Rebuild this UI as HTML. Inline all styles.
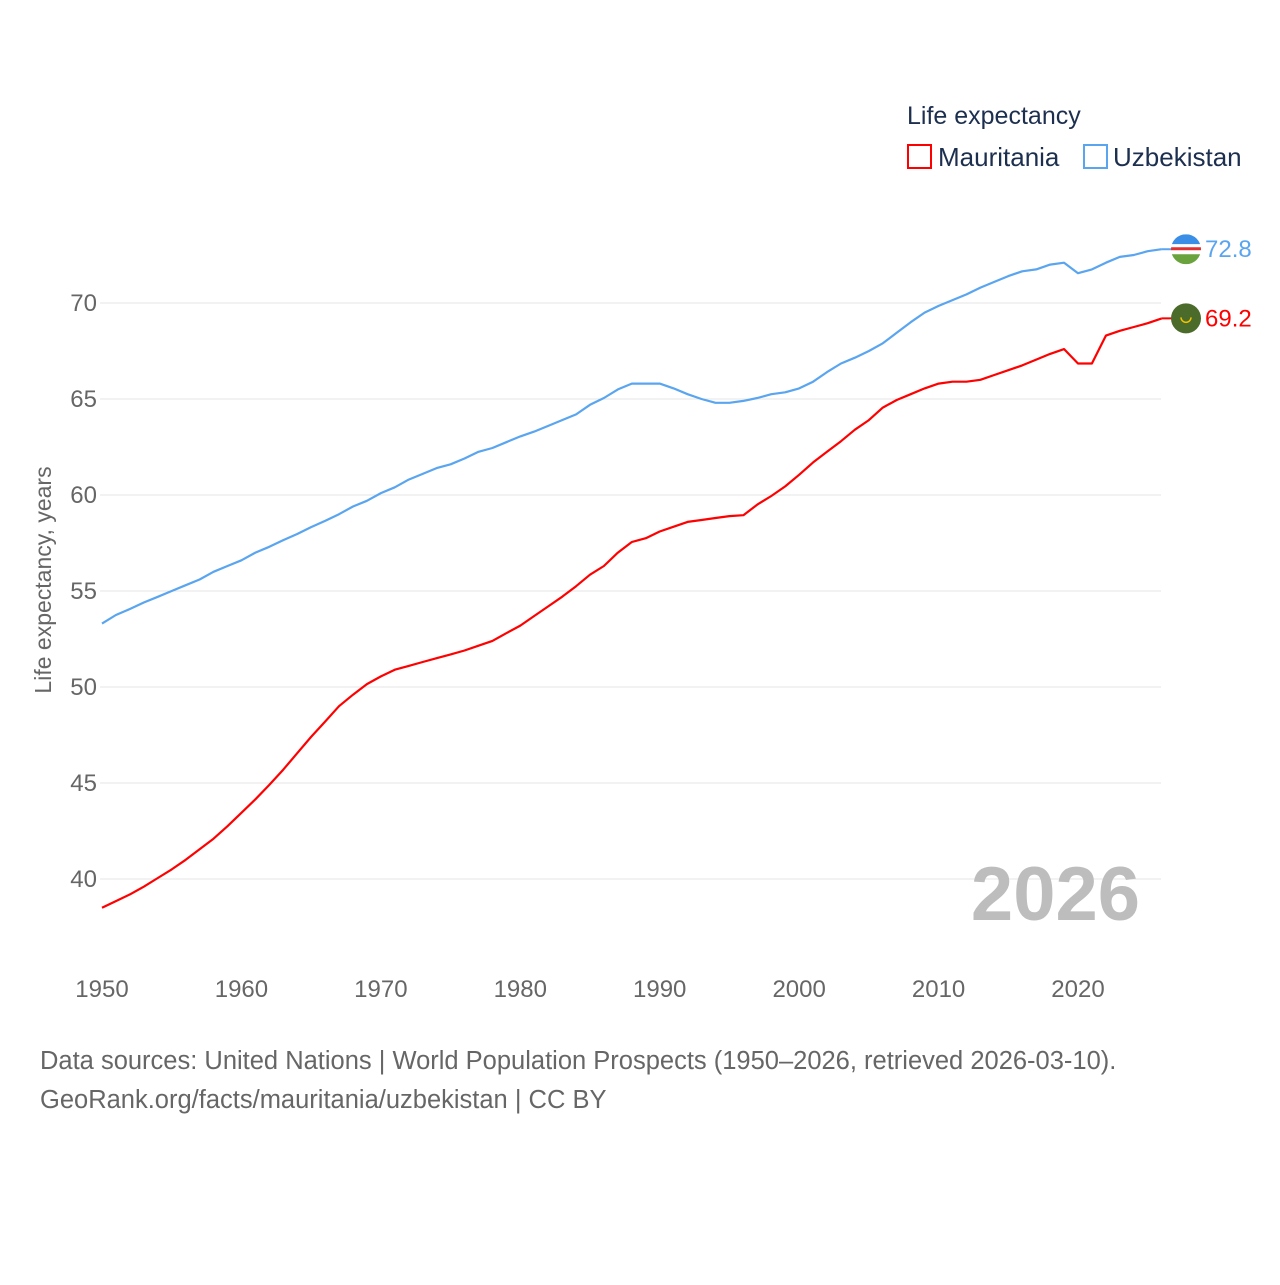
<!DOCTYPE html>
<html><head><meta charset="utf-8"><style>
body{margin:0;background:#fff;font-family:"Liberation Sans",sans-serif;}
svg text{font-family:"Liberation Sans",sans-serif;}
</style></head><body>
<svg id="chart" width="1280" height="1280" viewBox="0 0 1280 1280" xmlns="http://www.w3.org/2000/svg">
<rect width="1280" height="1280" fill="#fff"/>
<g id="grid"></g><g id="xt"></g><g id="yt"></g>
<text transform="translate(51,580) rotate(-90)" text-anchor="middle" font-size="23" fill="#666">Life expectancy, years</text>
<text x="1140" y="920" text-anchor="end" font-size="76" font-weight="bold" fill="#bdbdbd">2026</text>
<g id="series"></g>
<text x="907" y="124" font-size="25" fill="#1d2f4f">Life expectancy</text>
<g><rect x="908" y="145" width="23" height="23" fill="none" stroke="#f00" stroke-width="2"/><text x="938" y="166" font-size="26" fill="#1d2f4f">Mauritania</text></g>
<g><rect x="1084" y="145" width="23" height="23" fill="none" stroke="#5aa5ef" stroke-width="2"/><text x="1113" y="166" font-size="26" fill="#1d2f4f">Uzbekistan</text></g>
<text x="40" y="1069" font-size="25.5" fill="#666">Data sources: United Nations | World Population Prospects (1950–2026, retrieved 2026-03-10).</text>
<text x="40" y="1108" font-size="25.5" fill="#666">GeoRank.org/facts/mauritania/uzbekistan | CC BY</text>
</svg>
<script>
const years=[];for(let y=1950;y<=2026;y++)years.push(y);
const uzbekistan=[53.3,53.75,54.06,54.4,54.7,55.0,55.3,55.6,56.0,56.3,56.6,57.0,57.3,57.65,57.97,58.33,58.65,59.0,59.4,59.7,60.1,60.4,60.8,61.1,61.4,61.6,61.9,62.25,62.45,62.75,63.05,63.3,63.6,63.9,64.2,64.7,65.05,65.5,65.8,65.8,65.8,65.55,65.25,65.0,64.8,64.8,64.9,65.05,65.25,65.35,65.55,65.9,66.4,66.85,67.15,67.5,67.9,68.45,69.0,69.5,69.85,70.15,70.45,70.8,71.1,71.4,71.65,71.75,72.0,72.1,71.55,71.75,72.1,72.4,72.5,72.7,72.8];
const mauritania=[38.5,38.85,39.2,39.6,40.05,40.5,41.0,41.55,42.1,42.75,43.45,44.15,44.9,45.7,46.55,47.4,48.2,49.0,49.6,50.15,50.55,50.9,51.1,51.3,51.5,51.7,51.9,52.15,52.4,52.8,53.2,53.7,54.2,54.7,55.25,55.85,56.3,57.0,57.55,57.75,58.1,58.35,58.6,58.7,58.8,58.9,58.95,59.5,59.95,60.45,61.05,61.7,62.25,62.8,63.4,63.9,64.55,64.95,65.25,65.55,65.8,65.9,65.9,66.0,66.25,66.5,66.75,67.05,67.35,67.6,66.85,66.85,68.3,68.55,68.75,68.95,69.2];
const yTicks=[40,45,50,55,60,65,70];
const xTicks=[1950,1960,1970,1980,1990,2000,2010,2020];
const X=v=>102+(v-1950)*(1078-102)/70;
const Y=v=>879-(v-40)*19.2;
const NS="http://www.w3.org/2000/svg";
function mk(t,a,p){const e=document.createElementNS(NS,t);for(const k in a)e.setAttribute(k,a[k]);p.appendChild(e);return e;}
const grid=document.getElementById('grid'),yt=document.getElementById('yt'),xt=document.getElementById('xt'),ser=document.getElementById('series');
yTicks.forEach(v=>{
 const l=mk('line',{x1:100,x2:1161,y1:Y(v),y2:Y(v),stroke:'#e6e6e6','stroke-width':1},grid);
 
 
 const t=mk('text',{x:97,y:Y(v)+8,'text-anchor':'end','font-size':24,fill:'#666'},yt);t.textContent=v;
 
 
});
xTicks.forEach(v=>{
 const t=mk('text',{x:X(v),y:997,'text-anchor':'middle','font-size':24,fill:'#666'},xt);t.textContent=v;
 
 
});
function line(vals,color,name){
 const d=vals.map((v,i)=>(i?'L':'M')+X(years[i]).toFixed(1)+','+Y(v).toFixed(1)).join('');
 const p=mk('path',{d:d,fill:'none',stroke:color,'stroke-width':2.2,'stroke-linejoin':'round'},ser);
 
 
 const last=vals[vals.length-1],lx=X(years[years.length-1]),ly=Y(last);
 mk('line',{x1:lx,x2:1172,y1:ly,y2:ly,stroke:color,'stroke-width':2},ser);
 const t=mk('text',{x:1205,y:ly+8,'font-size':24,fill:color},ser);t.textContent=last.toFixed(1);
 
 
 return ly;
}
const ym=line(mauritania,'#f00','mauritania');
const yu=line(uzbekistan,'#5aa5ef','uzbekistan');
const fm=mk('g',{},ser);


mk('circle',{cx:1186,cy:ym,r:15,fill:'#4a6b2a'},fm);
mk('path',{d:`M1181,${ym-1} a5,5 0 0 0 10,0`,fill:'none',stroke:'#f2c200','stroke-width':1.5},fm);
const fu=mk('g',{},ser);


mk('clipPath',{id:'cu'},fu);
mk('circle',{cx:1186,cy:yu,r:15},fu.lastChild);
const g2=mk('g',{'clip-path':'url(#cu)'},fu);
mk('rect',{x:1171,y:yu-15,width:30,height:10,fill:'#3a8ee6'},g2);
mk('rect',{x:1171,y:yu-5,width:30,height:10,fill:'#fff'},g2);
mk('rect',{x:1171,y:yu-2,width:30,height:3,fill:'#e03030'},g2);
mk('rect',{x:1171,y:yu+5,width:30,height:10,fill:'#6aa33e'},g2);
</script>
</body></html>
